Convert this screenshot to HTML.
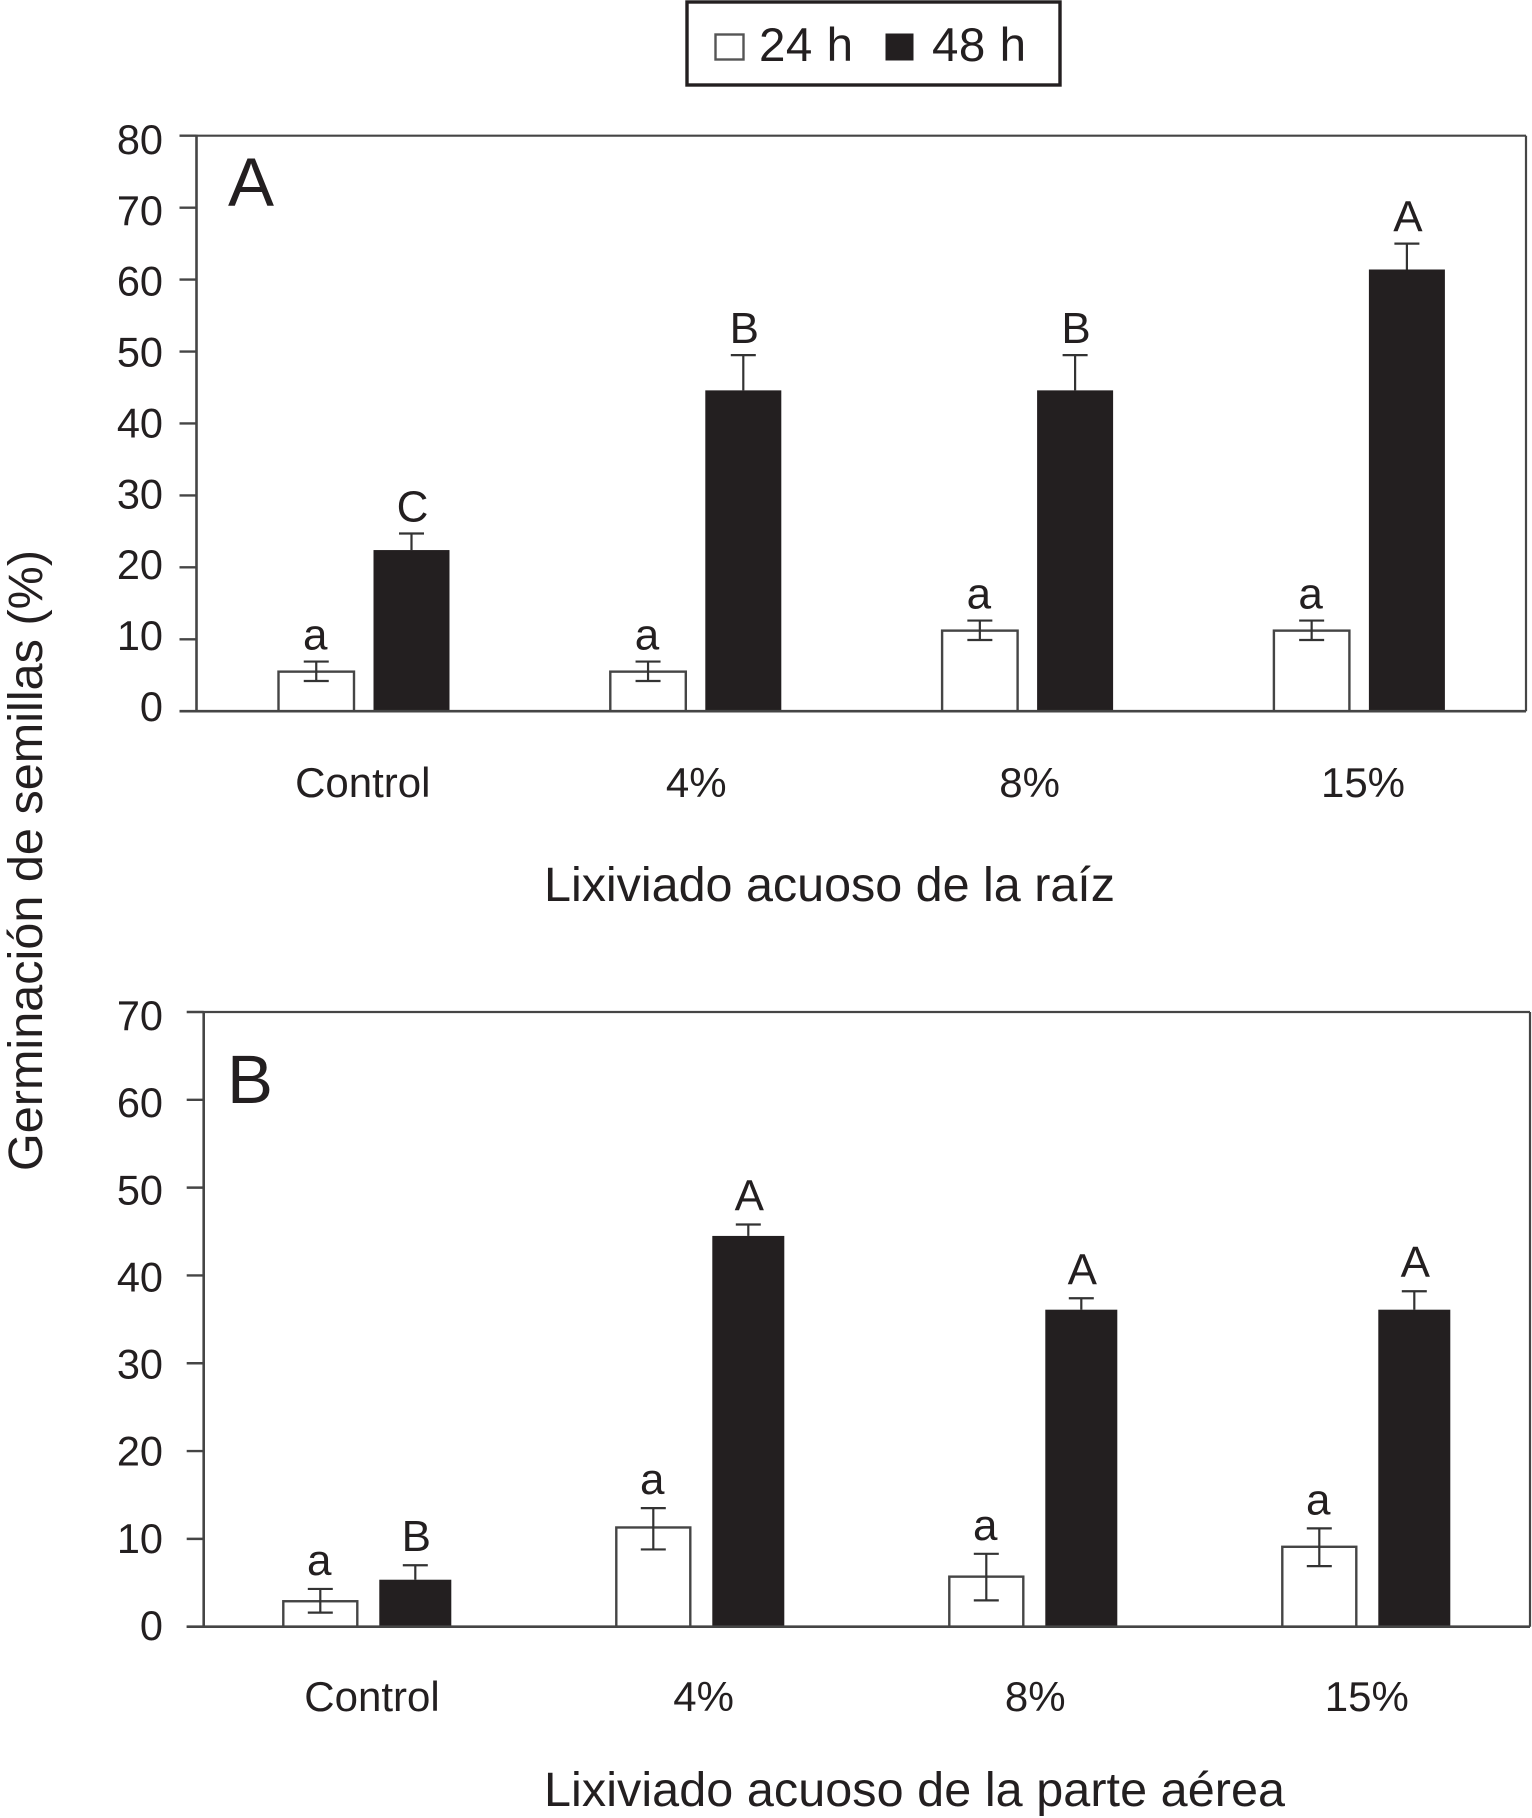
<!DOCTYPE html>
<html lang="es">
<head>
<meta charset="utf-8">
<title>Germinación de semillas</title>
<style>
  html, body { margin: 0; padding: 0; background: #fff; }
  svg { display: block; font-family: "Liberation Sans", Arial, sans-serif; }
  text { fill: #231f20; }
</style>
</head>
<body>
<svg id="chart" xmlns="http://www.w3.org/2000/svg" width="1532" height="1818" viewBox="0 0 1532 1818">
  <rect x="0" y="0" width="1532" height="1818" fill="#ffffff"/>

  <g>
    <rect x="687" y="2" width="373" height="83" fill="#fff" stroke="#231f20" stroke-width="3.4"/>
    <rect x="715.5" y="34.5" width="28" height="25" fill="#fff" stroke="#555" stroke-width="2.4"/>
    <text x="759" y="61" font-size="47.5" textLength="94" lengthAdjust="spacing">24 h</text>
    <rect x="885.5" y="33.5" width="28" height="27" fill="#231f20"/>
    <text x="932" y="61" font-size="47.5" textLength="94" lengthAdjust="spacing">48 h</text>
  </g>

  <text transform="translate(42,1171) rotate(-90)" font-size="48.5" textLength="621" lengthAdjust="spacing">Germinación de semillas (%)</text>

  <g id="panel-a">
    <text x="228" y="206" font-size="69">A</text>
    <text x="544" y="901" font-size="48.5" textLength="571" lengthAdjust="spacing">Lixiviado acuoso de la raíz</text>
  </g>
  <g id="panel-b">
    <text x="227" y="1103" font-size="69">B</text>
    <text x="544" y="1806" font-size="48.5" textLength="741" lengthAdjust="spacing">Lixiviado acuoso de la parte aérea</text>
  </g>
</svg>

<script>
// Shared categories
var categories = ['Control', '4%', '8%', '15%'];

// Panel A data (root leachate)
var aTicks = [0, 10, 20, 30, 40, 50, 60, 70, 80];
var aValues24 = [5.5, 5.5, 11.2, 11.2];
var aUpper24 = [6.9, 6.9, 12.6, 12.6];
var aLower24 = [4.2, 4.2, 9.9, 9.9];
var aLetters24 = ['a', 'a', 'a', 'a'];
var aValues48 = [22.4, 44.6, 44.6, 61.4];
var aUpper48 = [24.7, 49.5, 49.5, 65];
var aLetters48 = ['C', 'B', 'B', 'A'];

// Panel B data (aerial part leachate)
var bTicks = [0, 10, 20, 30, 40, 50, 60, 70];
var bValues24 = [2.9, 11.3, 5.7, 9.1];
var bUpper24 = [4.3, 13.5, 8.3, 11.2];
var bLower24 = [1.6, 8.8, 3.0, 6.9];
var bLetters24 = ['a', 'a', 'a', 'a'];
var bValues48 = [5.35, 44.5, 36.1, 36.1];
var bUpper48 = [7.0, 45.8, 37.4, 38.2];
var bLetters48 = ['B', 'A', 'A', 'A'];

var SVG_NS = 'http://www.w3.org/2000/svg';
var LINE = '#454545';
var INK = '#231f20';

function makeLine(parent, x1, y1, x2, y2, color, width) {
  var l = document.createElementNS(SVG_NS, 'line');
  l.setAttribute('x1', x1);
  l.setAttribute('y1', y1);
  l.setAttribute('x2', x2);
  l.setAttribute('y2', y2);
  l.setAttribute('stroke', color);
  l.setAttribute('stroke-width', width);
  parent.appendChild(l);
  return l;
}

function makeText(parent, x, y, size, anchor, content) {
  var t = document.createElementNS(SVG_NS, 'text');
  t.setAttribute('x', x);
  t.setAttribute('y', y);
  t.setAttribute('font-size', size);
  t.setAttribute('text-anchor', anchor);
  t.textContent = content;
  parent.appendChild(t);
  return t;
}

function makeRect(parent, x, y, w, h, fill, stroke) {
  var r = document.createElementNS(SVG_NS, 'rect');
  r.setAttribute('x', x);
  r.setAttribute('y', y);
  r.setAttribute('width', w);
  r.setAttribute('height', h);
  r.setAttribute('fill', fill);
  if (stroke) {
    r.setAttribute('stroke', stroke);
    r.setAttribute('stroke-width', 2.4);
  }
  parent.appendChild(r);
  return r;
}

function drawErrorBar(parent, cx, yHi, yLo, prefix) {
  var stem = makeLine(parent, cx, yHi, cx, yLo, '#333', 2.2);
  
  
  var capTop = makeLine(parent, cx - 12.5, yHi, cx + 12.5, yHi, '#333', 2.2);
  
  
}

function drawPanel(p) {
  var root = document.getElementById(p.id);
  var y = function (v) { return p.y0 - (v / p.yMax) * (p.y0 - p.yTop); };
  var tickLabelY = function (v) { return p.labelBase - (v / p.yMax) * p.labelSpan; };
  var groupX = function (i) { return p.groupStart + i * p.groupStep; };
  var categoryX = function (i) { return p.categoryStart + i * p.categoryStep; };

  // Plot frame
  var top = makeLine(root, p.x0, p.yTop, p.x1, p.yTop, LINE, 2.2);
  
  
  var right = makeLine(root, p.x1, p.yTop, p.x1, p.y0, LINE, 2.2);
  
  
  var yAxis = makeLine(root, p.x0, p.yTop - 1, p.x0, p.y0 + 1, LINE, 2.6);
  
  

  // Y ticks and labels
  p.ticks.forEach(function (v) {
    var tick = makeLine(root, p.x0 - 17, y(v), p.x0, y(v), LINE, 2.4);
    
    
    var label = makeText(root, 163, tickLabelY(v), 41.5, 'end', String(v));
    
    
  });

  // Bars, error bars and letters
  categories.forEach(function (cat, i) {
    var key = p.id + '-' + cat.replace('%', 'pct').toLowerCase();
    var xW = groupX(i);
    var xB = xW + p.blackOffset;

    var barW = makeRect(root, xW, y(p.values24[i]), p.barWidth, p.y0 - y(p.values24[i]), '#fff', LINE);
    
    
    drawErrorBar(root, xW + p.barWidth / 2, y(p.upper24[i]), y(p.lower24[i]), key + '-24h');
    var capLow = makeLine(root, xW + p.barWidth / 2 - 12.5, y(p.lower24[i]), xW + p.barWidth / 2 + 12.5, y(p.lower24[i]), '#333', 2.2);
    
    

    drawErrorBar(root, xB + p.blackWidth / 2, y(p.upper48[i]), y(p.values48[i]), key + '-48h');
    var barB = makeRect(root, xB, y(p.values48[i]), p.blackWidth, p.y0 - y(p.values48[i]), INK);
    
    

    var l24 = makeText(root, xW + p.barWidth / 2 - 1, y(p.upper24[i]) - p.letterGap, 44, 'middle', p.letters24[i]);
    
    
    var l48 = makeText(root, xB + p.blackWidth / 2 + 1, y(p.upper48[i]) - p.letterGap, 44, 'middle', p.letters48[i]);
    
    

    var catLabel = makeText(root, categoryX(i), p.categoryBaseline, 42, 'middle', cat);
    
    
  });

  // Baseline on top of the bars
  var xAxis = makeLine(root, p.x0 - 17, p.y0, p.x1, p.y0, LINE, 2.6);
  
  
}

drawPanel({
  id: 'panel-a', ticks: aTicks, yMax: 80,
  x0: 196.5, x1: 1526, yTop: 135.7, y0: 711.2,
  labelBase: 720.9, labelSpan: 567,
  groupStart: 278.5, groupStep: 331.8, barWidth: 75.5, blackWidth: 76, blackOffset: 95,
  categoryStart: 362.8, categoryStep: 333.4, categoryBaseline: 797, letterGap: 12,
  values24: aValues24, upper24: aUpper24, lower24: aLower24, letters24: aLetters24,
  values48: aValues48, upper48: aUpper48, letters48: aLetters48
});

drawPanel({
  id: 'panel-b', ticks: bTicks, yMax: 70,
  x0: 203.7, x1: 1530, yTop: 1012, y0: 1626.7,
  labelBase: 1640, labelSpan: 610,
  groupStart: 283.3, groupStep: 333, barWidth: 74, blackWidth: 72, blackOffset: 96,
  categoryStart: 372, categoryStep: 331.6, categoryBaseline: 1711, letterGap: 14,
  values24: bValues24, upper24: bUpper24, lower24: bLower24, letters24: bLetters24,
  values48: bValues48, upper48: bUpper48, letters48: bLetters48
});
</script>
</body>
</html>
